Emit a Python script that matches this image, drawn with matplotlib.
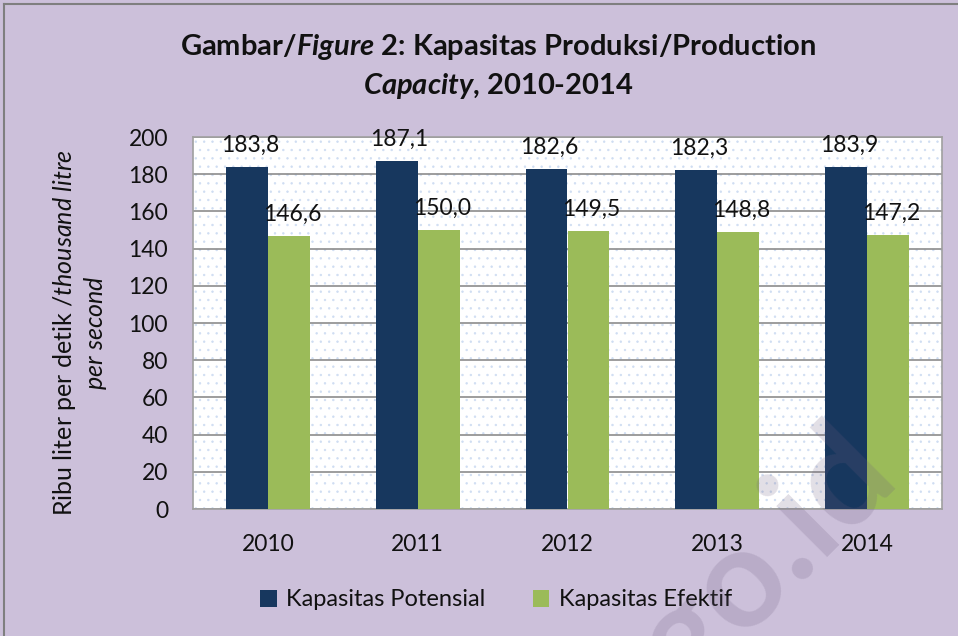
import matplotlib
matplotlib.use("Agg")
import matplotlib.pyplot as plt
from matplotlib.patches import Patch, Rectangle
from matplotlib.lines import Line2D
import numpy as np

plt.rcParams['font.family'] = ['Lato', 'DejaVu Sans']
plt.rcParams['mathtext.fontset'] = 'custom'
plt.rcParams['mathtext.rm'] = 'Lato'
plt.rcParams['mathtext.it'] = 'Lato:italic'
plt.rcParams['mathtext.bf'] = 'Lato:bold'
plt.rcParams['mathtext.bfit'] = 'Lato:italic:bold'
plt.rcParams['hatch.linewidth'] = 0.5

years = ['2010', '2011', '2012', '2013', '2014']
potensial = [183.8, 187.1, 182.6, 182.3, 183.9]
efektif = [146.6, 150.0, 149.5, 148.8, 147.2]
series_names = ['Kapasitas Potensial', 'Kapasitas Efektif']
yticks = [0, 20, 40, 60, 80, 100, 120, 140, 160, 180, 200]

navy = '#17375E'
green = '#9BBB59'
lavender = '#CCC0DA'
grid_c = '#8C8C8C'
txt = '#111111'

fig = plt.figure(figsize=(9.58, 6.36), dpi=100)
fig.patch.set_facecolor(lavender)
fig.add_artist(Line2D([4/958, 4/958], [0, 1-4/636], transform=fig.transFigure, color='#7F7F7F', lw=1.5))
fig.add_artist(Line2D([4/958, 1], [1-4/636, 1-4/636], transform=fig.transFigure, color='#7F7F7F', lw=1.5))

ax = fig.add_axes([193/958, 1-509/636, (942-193)/958, (509-137)/636])
ax.set_facecolor('white')
ax.add_patch(Rectangle((0, 0), 1, 1, transform=ax.transAxes, facecolor='none',
                       edgecolor='#CFDDF2', hatch='..', lw=0, zorder=0.5))

x = np.arange(len(years))
w = 0.28
b1 = ax.bar(x - w/2, potensial, w, color=navy, label=series_names[0], zorder=3)
b2 = ax.bar(x + w/2, efektif, w, color=green, label=series_names[1], zorder=3)

for bars, vals in ((b1, potensial), (b2, efektif)):
    for r, v in zip(bars, vals):
        ax.annotate(f"{v:.1f}".replace('.', ','), (r.get_x() + r.get_width()/2 + 0.02, v),
                    xytext=(0, 8), textcoords='offset points', ha='center', va='bottom',
                    fontsize=16.5, color=txt, zorder=5)

ax.set_xlim(-0.5, 4.5)
ax.set_ylim(0, 200)
ax.set_yticks(yticks)
ax.set_yticklabels([str(t) for t in yticks])
ax.set_xticks(x)
ax.set_xticklabels(years)
ax.tick_params(axis='both', length=0, labelsize=16.5, colors=txt)
ax.tick_params(axis='y', pad=18)
ax.tick_params(axis='x', pad=18)
ax.yaxis.grid(True, color=grid_c, lw=1.2, zorder=1)
ax.set_axisbelow(True)
for s in ax.spines.values():
    s.set_color('#A0A0A0')
    s.set_linewidth(1.2)

fig.text(80/958, 1-333/636,
         "Ribu liter per detik /$\\mathit{thousand\\ litre}$\n$\\mathit{per\\ second}$",
         rotation=90, ha='center', va='center', fontsize=18, color=txt,
         linespacing=1.15, multialignment='center')

fig.text(498/958, 1-47/636,
         "Gambar/$\\mathbfit{Figure}$ 2: Kapasitas Produksi/Production",
         ha='center', va='center', fontsize=21, fontweight='bold', color=txt)
fig.text(498/958, 1-86/636, "$\\mathbfit{Capacity}$, 2010-2014",
         ha='center', va='center', fontsize=21, fontweight='bold', color=txt)

handles = [Patch(facecolor=navy), Patch(facecolor=green)]
fig.legend(handles, series_names, loc='center', bbox_to_anchor=(496/958, 1-600/636),
           ncol=2, frameon=False, fontsize=17, handlelength=0.7, handleheight=0.7,
           handletextpad=0.4, columnspacing=2.0, labelcolor=txt)

# watermark
fig.text(872/958, 1-448/636, "bps.go.id", rotation=45, rotation_mode='anchor',
         ha='right', va='center', fontsize=100, fontweight='bold', color='#6F5F80',
         alpha=0.2, zorder=10)

fig.savefig('out.png', dpi=100, facecolor=lavender)
